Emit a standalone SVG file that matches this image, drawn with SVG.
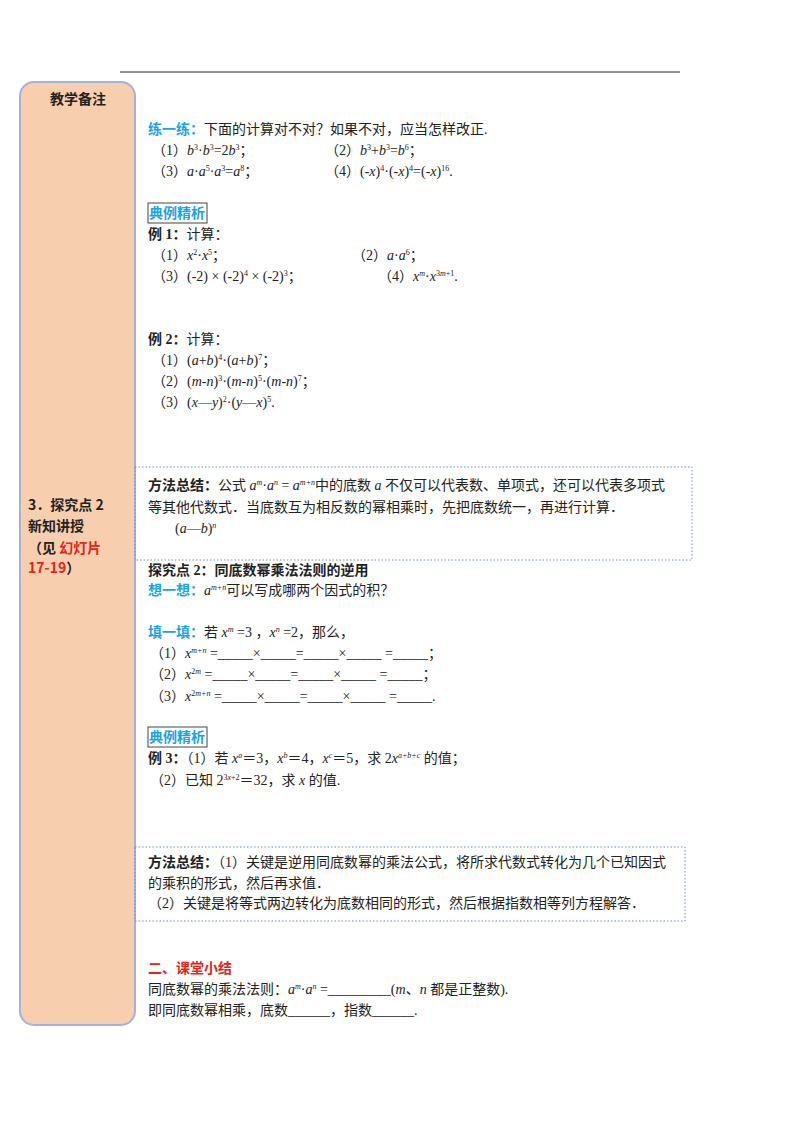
<svg xmlns="http://www.w3.org/2000/svg" width="800" height="1132" viewBox="0 0 800 1132">
<style>
text{font-family:"Liberation Serif","Noto Sans CJK SC",serif;font-size:14px;fill:#222}
.b{font-weight:bold}
.blue{fill:#1aa3e8;font-weight:bold}
.red{fill:#e8231a;font-weight:bold}
.i{font-style:italic}
.s{font-size:8px}
.side{font-family:"Noto Sans CJK SC","Liberation Sans",sans-serif;font-weight:bold;font-size:14px}
.dot{fill:none;stroke:#6f8fc8;stroke-width:1;stroke-dasharray:1.5 2}
</style>
<rect width="800" height="1132" fill="#fff"/>
<line x1="120" y1="72" x2="680" y2="72" stroke="#222" stroke-width="1"/>
<g id="sidebar">
<rect x="20" y="82" width="115" height="943" rx="14" fill="#f8cfae" stroke="#9fb3dc" stroke-width="2"/>
<text class="side" x="78" y="104" text-anchor="middle">教学备注</text>
<text class="side" x="28" y="510">3．探究点 2</text>
<text class="side" x="28" y="531">新知讲授</text>
<text class="side" x="28" y="553">（见 <tspan fill="#e8231a">幻灯片</tspan></text>
<text class="side" x="28" y="573"><tspan fill="#e8231a">17-19</tspan>）</text>
</g>
<g id="practice">
<text x="148" y="134"><tspan class="blue">练一练：</tspan>下面的计算对不对？如果不对，应当怎样改正.</text>
<text x="152" y="155">（1）<tspan class="i">b</tspan><tspan class="s" dy="-5">3</tspan><tspan dy="5">·</tspan><tspan class="i">b</tspan><tspan class="s" dy="-5">3</tspan><tspan dy="5">=2</tspan><tspan class="i">b</tspan><tspan class="s" dy="-5">3</tspan><tspan dy="5">；</tspan></text>
<text x="325" y="155">（2）<tspan class="i">b</tspan><tspan class="s" dy="-5">3</tspan><tspan dy="5">+</tspan><tspan class="i">b</tspan><tspan class="s" dy="-5">3</tspan><tspan dy="5">=</tspan><tspan class="i">b</tspan><tspan class="s" dy="-5">6</tspan><tspan dy="5">；</tspan></text>
<text x="152" y="176">（3）<tspan class="i">a</tspan>·<tspan class="i">a</tspan><tspan class="s" dy="-5">5</tspan><tspan dy="5">·</tspan><tspan class="i">a</tspan><tspan class="s" dy="-5">3</tspan><tspan dy="5">=</tspan><tspan class="i">a</tspan><tspan class="s" dy="-5">8</tspan><tspan dy="5">；</tspan></text>
<text x="325" y="176">（4）(-<tspan class="i">x</tspan>)<tspan class="s" dy="-5">4</tspan><tspan dy="5">·(-</tspan><tspan class="i">x</tspan>)<tspan class="s" dy="-5">4</tspan><tspan dy="5">=(-</tspan><tspan class="i">x</tspan>)<tspan class="s" dy="-5">16</tspan><tspan dy="5">.</tspan></text>
</g>
<g id="ex1">
<rect x="148" y="203" width="59" height="20" fill="none" stroke="#444" stroke-width="1"/>
<text class="blue" x="149" y="218">典例精析</text>
<text x="148" y="239"><tspan class="b">例 1：</tspan>计算：</text>
<text x="152" y="260">（1）<tspan class="i">x</tspan><tspan class="s" dy="-5">2</tspan><tspan dy="5">·</tspan><tspan class="i">x</tspan><tspan class="s" dy="-5">5</tspan><tspan dy="5">；</tspan></text>
<text x="352" y="260">（2）<tspan class="i">a</tspan>·<tspan class="i">a</tspan><tspan class="s" dy="-5">6</tspan><tspan dy="5">；</tspan></text>
<text x="152" y="281">（3）(-2) × (-2)<tspan class="s" dy="-5">4</tspan><tspan dy="5">  × (-2)</tspan><tspan class="s" dy="-5">3</tspan><tspan dy="5">；</tspan></text>
<text x="378" y="281">（4）<tspan class="i">x</tspan><tspan class="s i" dy="-5">m</tspan><tspan dy="5">·</tspan><tspan class="i">x</tspan><tspan class="s" dy="-5">3<tspan class="i">m</tspan>+1</tspan><tspan dy="5">.</tspan></text>
</g>
<g id="ex2">
<text x="148" y="344"><tspan class="b">例 2：</tspan>计算：</text>
<text x="152" y="365">（1）(<tspan class="i">a</tspan>+<tspan class="i">b</tspan>)<tspan class="s" dy="-5">4</tspan><tspan dy="5">·(</tspan><tspan class="i">a</tspan>+<tspan class="i">b</tspan>)<tspan class="s" dy="-5">7</tspan><tspan dy="5">；</tspan></text>
<text x="152" y="386">（2）(<tspan class="i">m</tspan>-<tspan class="i">n</tspan>)<tspan class="s" dy="-5">3</tspan><tspan dy="5">·(</tspan><tspan class="i">m</tspan>-<tspan class="i">n</tspan>)<tspan class="s" dy="-5">5</tspan><tspan dy="5">·(</tspan><tspan class="i">m</tspan>-<tspan class="i">n</tspan>)<tspan class="s" dy="-5">7</tspan><tspan dy="5">；</tspan></text>
<text x="152" y="407">（3）(<tspan class="i">x</tspan>—<tspan class="i">y</tspan>)<tspan class="s" dy="-5">2</tspan><tspan dy="5">·(</tspan><tspan class="i">y</tspan>—<tspan class="i">x</tspan>)<tspan class="s" dy="-5">5</tspan><tspan dy="5">.</tspan></text>
</g>
<g id="summary1">
<rect class="dot" x="135" y="467" width="557" height="93"/>
<text x="148" y="490"><tspan class="b">方法总结：</tspan>公式 <tspan class="i">a</tspan><tspan class="s i" dy="-5">m</tspan><tspan dy="5">·</tspan><tspan class="i">a</tspan><tspan class="s i" dy="-5">n</tspan><tspan dy="5"> = </tspan><tspan class="i">a</tspan><tspan class="s i" dy="-5">m+n</tspan><tspan dy="5">中的底数 </tspan><tspan class="i">a</tspan> 不仅可以代表数、单项式，还可以代表多项式</text>
<text x="148" y="512">等其他代数式．当底数互为相反数的幂相乘时，先把底数统一，再进行计算．</text>
<text x="175" y="533">(<tspan class="i">a</tspan>—<tspan class="i">b</tspan>)<tspan class="s i" dy="-5">n</tspan></text>
</g>
<g id="point2">
<text class="b" x="148" y="575">探究点 2：同底数幂乘法法则的逆用</text>
<text x="148" y="595"><tspan class="blue">想一想：</tspan><tspan class="i">a</tspan><tspan class="s i" dy="-5">m+n</tspan><tspan dy="5">可以写成哪两个因式的积？</tspan></text>
<text x="148" y="637"><tspan class="blue">填一填：</tspan>若 <tspan class="i">x</tspan><tspan class="s i" dy="-5">m</tspan><tspan dy="5">  =3 ，</tspan><tspan class="i">x</tspan><tspan class="s i" dy="-5">n</tspan><tspan dy="5">  =2，那么，</tspan></text>
<text x="150" y="658">（1）<tspan class="i">x</tspan><tspan class="s i" dy="-5">m+n</tspan><tspan dy="5">  =_____×_____=_____×_____  =_____；</tspan></text>
<text x="150" y="679">（2）<tspan class="i">x</tspan><tspan class="s" dy="-5">2<tspan class="i">m</tspan></tspan><tspan dy="5">  =_____×_____=_____×_____  =_____；</tspan></text>
<text x="150" y="701">（3）<tspan class="i">x</tspan><tspan class="s" dy="-5">2<tspan class="i">m+n</tspan></tspan><tspan dy="5">  =_____×_____=_____×_____  =_____.</tspan></text>
</g>
<g id="ex3">
<rect x="148" y="727" width="59" height="20" fill="none" stroke="#444" stroke-width="1"/>
<text class="blue" x="149" y="742">典例精析</text>
<text x="148" y="763"><tspan class="b">例 3：</tspan>（1）若 <tspan class="i">x</tspan><tspan class="s i" dy="-5">a</tspan><tspan dy="5">＝3，</tspan><tspan class="i">x</tspan><tspan class="s i" dy="-5">b</tspan><tspan dy="5">＝4，</tspan><tspan class="i">x</tspan><tspan class="s i" dy="-5">c</tspan><tspan dy="5">＝5，求 2</tspan><tspan class="i">x</tspan><tspan class="s i" dy="-5">a+b+c</tspan><tspan dy="5"> 的值；</tspan></text>
<text x="150" y="785">（2）已知 2<tspan class="s" dy="-5">3<tspan class="i">x</tspan>+2</tspan><tspan dy="5">＝32，求 </tspan><tspan class="i">x</tspan> 的值.</text>
</g>
<g id="summary2">
<rect class="dot" x="135" y="847" width="550" height="74"/>
<text x="148" y="867"><tspan class="b">方法总结：</tspan>（1）关键是逆用同底数幂的乘法公式，将所求代数式转化为几个已知因式</text>
<text x="148" y="888">的乘积的形式，然后再求值．</text>
<text x="148" y="908">（2）关键是将等式两边转化为底数相同的形式，然后根据指数相等列方程解答．</text>
</g>
<g id="conclusion">
<text class="red" x="148" y="973">二、课堂小结</text>
<text x="148" y="994">同底数幂的乘法法则：<tspan class="i">a</tspan><tspan class="s i" dy="-5">m</tspan><tspan dy="5">·</tspan><tspan class="i">a</tspan><tspan class="s i" dy="-5">n</tspan><tspan dy="5"> =_________(</tspan><tspan class="i">m</tspan>、<tspan class="i">n</tspan> 都是正整数).</text>
<text x="148" y="1015">即同底数幂相乘，底数______，指数______.</text>
</g>
</svg>
